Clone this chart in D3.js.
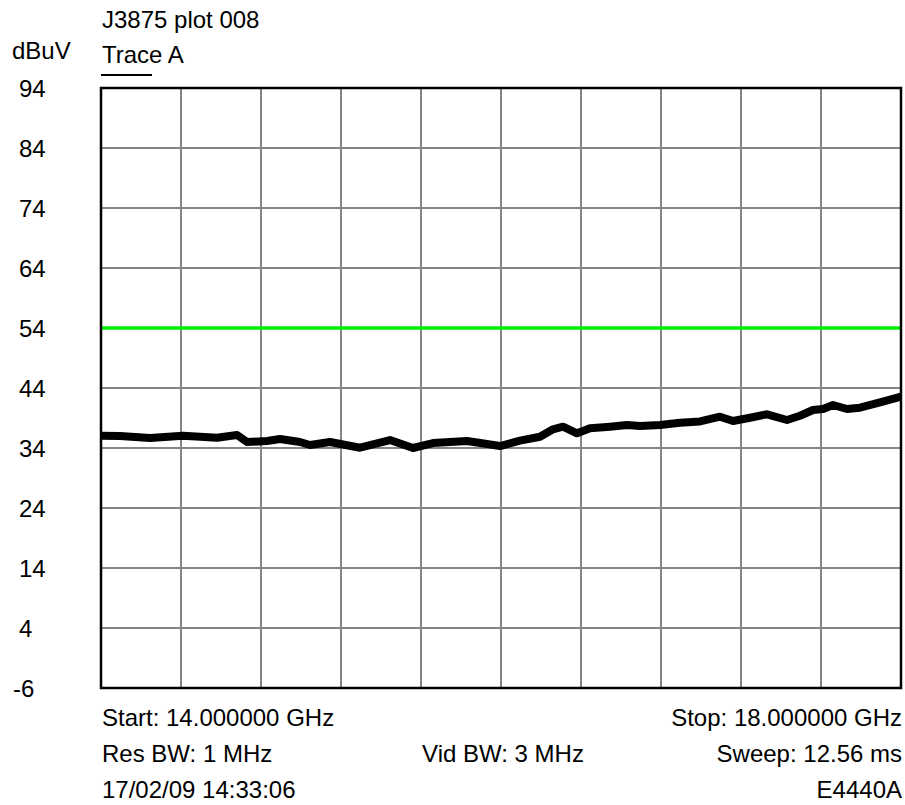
<!DOCTYPE html>
<html>
<head>
<meta charset="utf-8">
<script src="https://cdn.jsdelivr.net/npm/d3@7"></script>
<style>
  html, body { margin: 0; padding: 0; background: #fff; }
  svg text { font-family: "Liberation Sans", Arial, sans-serif; fill: #000; }
</style>
</head>
<body>
<svg id="chart" width="905" height="805"></svg>
<script>
// ---- data ----
const title = "J3875 plot 008";
const unitLabel = "dBuV";
const traceLabel = "Trace A";
const yTicks = [94, 84, 74, 64, 54, 44, 34, 24, 14, 4, -6];
const freqStartGHz = 14.0;
const freqStopGHz = 18.0;
const limitLevel = 54;
// trace: frequency (GHz) and level (dBuV)
const traceFreq = [14.000, 14.095, 14.245, 14.410, 14.580, 14.680, 14.730, 14.830, 14.895, 14.995,
                   15.045, 15.145, 15.295, 15.445, 15.560, 15.660, 15.830, 15.930, 15.995, 16.095,
                   16.195, 16.260, 16.310, 16.380, 16.445, 16.545, 16.630, 16.695, 16.795, 16.895,
                   16.995, 17.095, 17.160, 17.245, 17.330, 17.430, 17.495, 17.560, 17.610, 17.660,
                   17.730, 17.795, 17.895, 18.000];
const traceLevel = [36.05, 36.0, 35.67, 36.05, 35.72, 36.17, 35.0, 35.17, 35.5, 35.0,
                    34.5, 35.0, 34.05, 35.33, 34.0, 34.83, 35.17, 34.67, 34.33, 35.22,
                    35.88, 37.12, 37.55, 36.45, 37.28, 37.55, 37.83, 37.67, 37.83, 38.22,
                    38.42, 39.22, 38.5, 39.05, 39.62, 38.67, 39.38, 40.33, 40.5, 41.17,
                    40.5, 40.72, 41.62, 42.55];
const bottomLeft = ["Start: 14.000000 GHz", "Res BW: 1 MHz", "17/02/09 14:33:06"];
const bottomCenter = ["", "Vid BW: 3 MHz", ""];
const bottomRight = ["Stop: 18.000000 GHz", "Sweep: 12.56 ms", "E4440A"];

// ---- layout ----
const svg = d3.select("#chart");
const L = 101, R = 901, T = 88, B = 688;
const x = d3.scaleLinear().domain([freqStartGHz, freqStopGHz]).range([L, R]);
const y = d3.scaleLinear().domain([-6, 94]).range([B, T]);
const FS = 24;

// grid
const xGrid = d3.range(11).map(i => freqStartGHz + i * (freqStopGHz - freqStartGHz) / 10);
svg.append("g").selectAll("line.v").data(xGrid.slice(1, -1)).join("line")
  .attr("x1", d => x(d)).attr("x2", d => x(d)).attr("y1", T).attr("y2", B)
  .attr("stroke", "#858585").attr("stroke-width", 2);
svg.append("g").selectAll("line.h").data(yTicks.slice(1, -1)).join("line")
  .attr("x1", L).attr("x2", R).attr("y1", d => y(d)).attr("y2", d => y(d))
  .attr("stroke", "#858585").attr("stroke-width", 2);

// limit line
svg.append("line").attr("x1", L).attr("x2", R)
  .attr("y1", y(limitLevel)).attr("y2", y(limitLevel))
  .attr("stroke", "#00ee00").attr("stroke-width", 3.5);

// trace
const pts = traceFreq.map((f, i) => [f, traceLevel[i]]);
svg.append("path").datum(pts)
  .attr("d", d3.line().x(d => x(d[0])).y(d => y(d[1])))
  .attr("fill", "none").attr("stroke", "#000").attr("stroke-width", 8)
  .attr("stroke-linejoin", "round");

// frame
svg.append("rect").attr("x", L).attr("y", T).attr("width", R - L).attr("height", B - T)
  .attr("fill", "none").attr("stroke", "#000").attr("stroke-width", 2.5);

// y labels
svg.append("g").selectAll("text").data(yTicks).join("text")
  .attr("x", d => d < 0 ? 13 : 19)
  .attr("y", d => y(d) + 9)
  .attr("font-size", FS)
  .text(d => d);

// header texts
svg.append("text").attr("x", 102).attr("y", 28).attr("font-size", FS).text(title);
svg.append("text").attr("x", 12).attr("y", 59).attr("font-size", FS).text(unitLabel);
svg.append("text").attr("x", 102).attr("y", 63).attr("font-size", FS).text(traceLabel);
svg.append("line").attr("x1", 101).attr("x2", 152).attr("y1", 75).attr("y2", 75)
  .attr("stroke", "#000").attr("stroke-width", 2);

// footer texts
const rows = [726, 762, 797.5];
bottomLeft.forEach((t, i) => svg.append("text").attr("x", 102).attr("y", rows[i]).attr("font-size", FS).text(t));
bottomCenter.forEach((t, i) => { if (t) svg.append("text").attr("x", 503).attr("y", rows[i]).attr("text-anchor", "middle").attr("font-size", FS).text(t); });
bottomRight.forEach((t, i) => svg.append("text").attr("x", 902).attr("y", rows[i]).attr("text-anchor", "end").attr("font-size", FS).text(t));
</script>
</body>
</html>
